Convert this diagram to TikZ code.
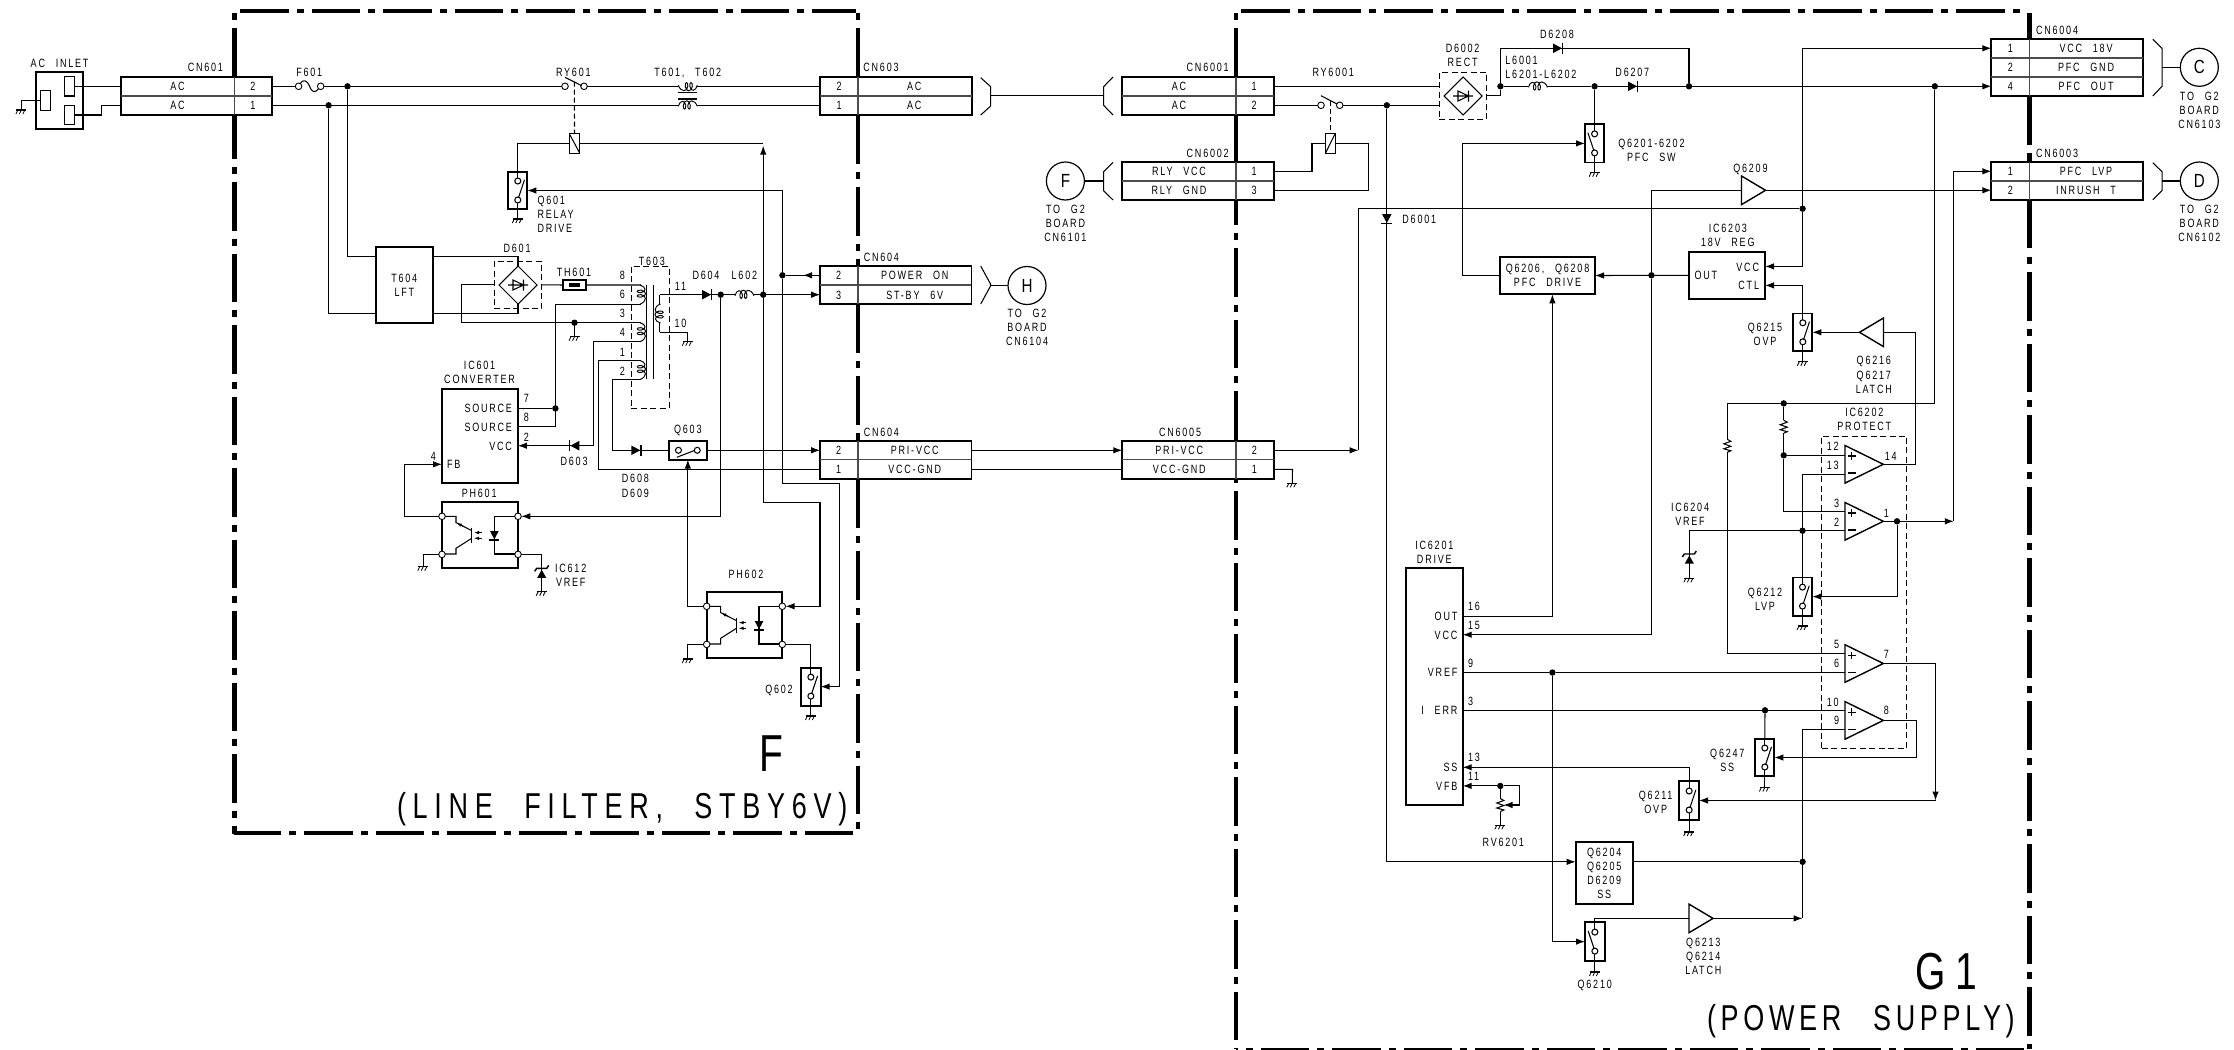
\documentclass[tikz,border=0pt]{standalone}
\usepackage{fontspec}
\usetikzlibrary{arrows.meta}
\newfontfamily\lblfamily[LetterSpace=15,FakeStretch=0.75,WordSpace=2.5]{Liberation Sans}
\newfontfamily\titlefamily[LetterSpace=18.7,FakeStretch=0.75,WordSpace=2.2]{Liberation Sans}
\newfontfamily\titlebfamily[LetterSpace=13,FakeStretch=0.75,WordSpace=2.6]{Liberation Sans}
\newfontfamily\tagfamily[FakeStretch=0.8]{Liberation Sans}
\newcommand{\lblfont}{\lblfamily\fontsize{12}{14}\selectfont}
\newcommand{\connrows}[5]{%
    \draw[rowline] (#4 |- #1.north) -- (#4 |- #1.south);
    \foreach \rowy/\pinno/\sig in {#5} {
        \node[lab] (#1p\pinno) at (#2,\rowy) {\pinno};
        \node[lab] (#1t\pinno) at (#3,\rowy) {\sig};
    }}
\tikzset{
    every node/.style={font=\lblfont, inner sep=0pt, outer sep=0pt},
    lab/.style={text height=8.6pt, text depth=0pt},
    mlab/.style={align=center},
    wire/.style={line width=1.05pt},
    arr/.style={wire, -{Latex[length=9pt,width=6.5pt]}},
    rowline/.style={line width=1.2pt, black!70},
    framedash/.style={line width=4.4pt, dash pattern=on 48.5pt off 8pt on 7pt off 8pt},
    framesolid/.style={line width=4.4pt},
    block/.style={draw, line width=1.8pt, fill=white},
    dashbox/.style={draw, line width=1pt, dash pattern=on 6pt off 3.5pt},
    pinrect/.style={draw, line width=1.1pt, fill=white},
    dot/.style={circle, fill=black, minimum size=6.4pt},
    contact/.style={circle, draw, fill=white, line width=.9pt, minimum size=6.6pt},
    tag/.style={circle, draw, line width=1.2pt, minimum size=38pt,
        font=\tagfamily\fontsize{19}{19}\selectfont},
    gnd/.pic={
        \draw[wire] (-5,0) -- (5,0);
        \foreach \tick in {-3.5,0,3.5} \draw[line width=.8pt] (\tick,0) -- (\tick-2,4);
    },
    swr/.pic={
        \draw[wire] (0,-19) -- (0,-9.5) (0,9.5) -- (0,19);
        \draw[wire, fill=white] (0,-9.5) circle (3) (0,9.5) circle (3);
        \draw[wire] (.7,7.3) -- (6.7,-10.7);
    },
    swl/.pic={
        \draw[wire] (0,-19) -- (0,-9.5) (0,9.5) -- (0,19);
        \draw[wire, fill=white] (0,-9.5) circle (3) (0,9.5) circle (3);
        \draw[wire] (-.7,7.3) -- (-6.7,-10.7);
    },
    swh/.pic={
        \draw[wire, fill=white] (-9.4,0) circle (3) (9.4,0) circle (3);
        \draw[wire] (-11,7) -- (7,0);
    },
    diodepic/.pic={
        \fill (-5,-4.8) -- (4,0) -- (-5,4.8) -- cycle;
        \draw[line width=1.4pt] (4.6,-5.5) -- (4.6,5.5);
    },
    zener/.pic={
        \draw[line width=1.4pt] (-7,3) -- (-5,0) -- (5,0) -- (7,-3);
        \fill (0,1.5) -- (-4.5,9.5) -- (4.5,9.5) -- cycle;
    },
    bridge/.pic={
        \draw[wire, fill=white] (-19,0) -- (0,-19) -- (19,0) -- (0,19) -- cycle;
        \draw[wire] (-10,0) -- (10,0) (-5,-5) -- (-5,5) -- (5.5,0) -- cycle (5.5,-5.5) -- (5.5,5.5);
    },
    coil/.pic={
        \draw[line width=.95pt] (-9.5,1) .. controls (-8,-5) and (-3,-6) .. (-2,0)
            .. controls (-1.5,5) and (-5,5) .. (-4.5,0)
            .. controls (-4,-6) and (2,-6) .. (2.5,0)
            .. controls (3,5) and (-.5,5) .. (0,0)
            .. controls (.5,-6) and (7,-6) .. (9.5,1);
    },
    resistor/.pic={
        \fill[white] (-1.5,-6.5) rectangle (1.5,6.5);
        \draw[wire] (0,-6.5) -- (3.5,-4.5) -- (-3.5,-2) -- (3.5,.5) -- (-3.5,3) -- (3.5,5) -- (0,6.5);
    },
    buffer/.pic={
        \draw[line width=1.4pt, fill=white] (0,-14.3) -- (24,0) -- (0,14.3) -- cycle;
    },
    opamp/.pic={
        \draw[line width=1.4pt, fill=white] (0,-18.8) -- (38.3,0) -- (0,18.8) -- cycle;
        \draw[wire] (3,-8.3) -- (10.5,-8.3) (6.7,-12) -- (6.7,-4.6) (3,8.7) -- (10.5,8.7);
    },
    opto/.pic={
        \draw[wire] (0,0) -- (14,0) -- (14,6.3) -- (29.7,14.3) (29.7,22) -- (14,32) -- (14,37.7) -- (0,37.7);
        \draw[line width=1.5pt] (29.7,12) -- (29.7,27);
        \draw[line width=.8pt, -{Latex[length=5pt,width=3.5pt]}] (22,10.3) -- (14.7,6.7);
        \draw[line width=.8pt, -{Latex[length=5pt,width=3.5pt]}] (39.7,16.3) -- (32,16.3);
        \draw[line width=.8pt, -{Latex[length=5pt,width=3.5pt]}] (39.7,22) -- (32,22);
        \draw[wire] (76,0) -- (52.3,0) -- (52.3,37.7) -- (76,37.7);
        \fill (48,14.7) -- (56.7,14.7) -- (52.3,23) -- cycle;
        \draw[line width=1.4pt] (47.3,23.7) -- (57.3,23.7);
    },
}
\begin{document}
\begin{tikzpicture}[x=1pt, y=-1pt]
    \useasboundingbox (0,0) rectangle (2234,1049);
    % board frames
    \draw[framedash] (240,11) -- (856,11);
    \draw[framedash] (853,832.7) -- (234,832.7);
    \draw[framesolid] (234.3,13) -- (234.3,20) (234.3,28) -- (234.3,159);
    \draw[framedash, dash phase=56.5pt] (234.3,167) -- (234.3,834);
    \draw[framesolid] (858,13) -- (858,20) (858,28) -- (858,163.5);
    \draw[framedash, dash phase=56.5pt] (858,172) -- (858,353);
    \draw[framesolid] (858,259) -- (858,353) (858,433) -- (858,528);
    \draw[framedash, dash phase=56.5pt] (858,361) -- (858,425);
    \draw[framedash, dash phase=56.5pt] (858,536) -- (858,831);
    \draw[framedash] (1241.4,11) -- (2024.6,11);
    \draw[framedash] (2024,1050.5) -- (1236,1050.5);
    \draw[framesolid] (1236,13) -- (1236,20) (1236,28) -- (1236,225) (1236,440) -- (1236,483);
    \draw[framedash, dash phase=56.5pt] (1236,233) -- (1236,440);
    \draw[framedash] (1236,491) -- (1236,1049);
    \draw[framesolid] (2029.4,13) -- (2029.4,145) (2029.4,153) -- (2029.4,248);
    \draw[framedash, dash phase=56.5pt] (2029.4,257) -- (2029.4,1049);

    % AC inlet
    \node[block, minimum width=47.5pt, minimum height=57pt] (inlet) at (59.5,100.5) {};
    \node[pinrect, minimum width=9.7pt, minimum height=19.3pt] (inleta) at (69.2,86.3) {};
    \node[pinrect, minimum width=9.7pt, minimum height=19.3pt] (inletb) at (69.2,115) {};
    \node[pinrect, minimum width=10pt, minimum height=19.6pt] (inletc) at (45.4,100.3) {};
    \node[lab] (inletlab) at (59.6,63.3) {AC INLET};
    \coordinate (gndinlet) at (21.4,110);

    % connectors
    \node[block, minimum width=151.4pt, minimum height=38pt] (cn601) at (196.4,96) {};
    \connrows{cn601}{252.9}{177.5}{234.3,0}{86.3/2/AC,105.3/1/AC}
    \draw[rowline] (cn601.west) -- (cn601.east);
    \node[lab] (cn601lab) at (205.4,67.3) {CN601};
    \node[block, minimum width=151.6pt, minimum height=38pt] (cn603) at (895.8,96) {};
    \connrows{cn603}{839}{914.3}{858,0}{86.3/2/AC,105.3/1/AC}
    \draw[rowline] (cn603.west) -- (cn603.east);
    \node[lab] (cn603lab) at (881,67.3) {CN603};
    \node[block, minimum width=151.2pt, minimum height=38.3pt] (cn604a) at (895.8,285) {};
    \connrows{cn604a}{838.6}{914.7}{858,0}{275.3/2/POWER ON,294.7/3/ST-BY 6V}
    \draw[rowline] (cn604a.west) -- (cn604a.east);
    \node[lab] (cn604alab) at (881.4,256.7) {CN604};
    \node[block, minimum width=151.2pt, minimum height=38pt] (cn604b) at (895.8,459.7) {};
    \connrows{cn604b}{838.6}{914.7}{858,0}{450.3/2/PRI-VCC,469.3/1/VCC-GND}
    \draw[rowline] (cn604b.west) -- (cn604b.east);
    \node[lab] (cn604blab) at (881.4,431.7) {CN604};
    \node[block, minimum width=151.6pt, minimum height=38pt] (cn6001) at (1198.1,96) {};
    \connrows{cn6001}{1254}{1179}{1236,0}{86.3/1/AC,105.3/2/AC}
    \draw[rowline] (cn6001.west) -- (cn6001.east);
    \node[lab] (cn6001lab) at (1207.7,67.3) {CN6001};
    \node[block, minimum width=151.6pt, minimum height=38pt] (cn6002) at (1198.1,181) {};
    \connrows{cn6002}{1254}{1179}{1236,0}{171.3/1/RLY VCC,190.3/3/RLY GND}
    \draw[rowline] (cn6002.west) -- (cn6002.east);
    \node[lab] (cn6002lab) at (1207.7,152.7) {CN6002};
    \node[block, minimum width=151.6pt, minimum height=38pt] (cn6005) at (1198.1,459.7) {};
    \connrows{cn6005}{1254.3}{1179.3}{1236,0}{450.3/2/PRI-VCC,469.3/1/VCC-GND}
    \draw[rowline] (cn6005.west) -- (cn6005.east);
    \node[lab] (cn6005lab) at (1180,431.7) {CN6005};
    \node[block, minimum width=151.3pt, minimum height=56.7pt] (cn6004) at (2067,67.65) {};
    \connrows{cn6004}{2010.4}{2086}{2029.4,0}{48.3/1/VCC 18V,67.3/2/PFC GND,86.3/4/PFC OUT}
    \draw[rowline] (cn6004.west |- 0,58) -- (cn6004.east |- 0,58) (cn6004.west |- 0,77) -- (cn6004.east |- 0,77);
    \node[lab] (cn6004lab) at (2057,30.7) {CN6004};
    \node[block, minimum width=151.3pt, minimum height=38pt] (cn6003) at (2067,181) {};
    \connrows{cn6003}{2010.4}{2086}{2029.4,0}{171.3/1/PFC LVP,190.3/2/INRUSH T}
    \draw[rowline] (cn6003.west) -- (cn6003.east);
    \node[lab] (cn6003lab) at (2057,152.7) {CN6003};

    % brackets and board tags
    \draw[wire] (980.7,77.7) -- ++(10,9) -- ++(0,19.3) -- ++(-10,9);
    \draw[wire] (1113,77) -- ++(-9.4,9.7) -- ++(0,18.6) -- ++(9.4,9.7);
    \draw[wire] (980.7,266) -- ++(9.8,18) -- ++(0,2) -- ++(-9.8,18);
    \draw[wire] (1113,162.3) -- ++(-9.4,9.4) -- ++(0,19) -- ++(9.4,9.3);
    \draw[wire] (2152.8,39.3) -- ++(9.2,9) -- ++(0,38) -- ++(-9.2,9.7);
    \draw[wire] (2152.8,162.7) -- ++(9.2,9) -- ++(0,19) -- ++(-9.2,9);
    \coordinate (br603) at (990.7,95.5);
    \coordinate (br6001) at (1103.6,95.5);
    \coordinate (br604) at (990.5,285.5);
    \coordinate (br6002) at (1103.6,181);
    \coordinate (br6004) at (2162,67.3);
    \coordinate (br6003) at (2162,181);
    \node[tag] (tagh) at (1027,285.5) {H};
    \node[tag] (tagf) at (1065.4,181) {F};
    \node[tag] (tagc) at (2199.3,67.3) {C};
    \node[tag] (tagd) at (2199.3,181) {D};
    \node[mlab] (tohlab) at (1027,327.8) {TO G2\\BOARD\\CN6104};
    \node[mlab] (toflab) at (1065.4,223.8) {TO G2\\BOARD\\CN6101};
    \node[mlab] (toclab) at (2199.3,110.5) {TO G2\\BOARD\\CN6103};
    \node[mlab] (todlab) at (2199.3,223.5) {TO G2\\BOARD\\CN6102};

    % line filter side
    \node[contact] (f601a) at (298.6,86.3) {};
    \node[contact] (f601b) at (320.7,86.3) {};
    \node[lab] (f601lab) at (309.3,72.7) {F601};
    \node[dot] (jac2) at (347.5,86.3) {};
    \node[dot] (jac1) at (328.6,105.3) {};
    \node[contact] (ry601a) at (565,86.3) {};
    \node[contact] (ry601b) at (584,86.3) {};
    \node[lab] (ry601lab) at (573.3,72.3) {RY601};
    \node[block, line width=1.2pt, minimum width=10.4pt, minimum height=19.4pt] (ry601c) at (574.5,143.4) {};
    \node[lab] (t601lab) at (687.7,72.3) {T601, T602};
    \coordinate (t601a) at (678.3,86.3);
    \coordinate (t601b) at (697.3,86.3);
    \coordinate (t602a) at (678.3,105.3);
    \coordinate (t602b) at (697.3,105.3);
    \node[block, minimum width=19pt, minimum height=37.6pt] (q601) at (517.8,190.5) {};
    \node[align=left, anchor=west] (q601lab) at (537.5,214) {Q601\\RELAY\\DRIVE};
    \node[block, minimum width=57.2pt, minimum height=75.7pt] (t604) at (404.3,284.85) {};
    \node[mlab] (t604lab) at (404.3,285.3) {T604\\LFT};
    \coordinate (t604a) at (375.7,256.7);
    \coordinate (t604b) at (375.7,313.3);
    \coordinate (t604c) at (432.9,256.7);
    \coordinate (t604d) at (432.9,313.3);
    \node[dashbox, minimum width=47.8pt, minimum height=47pt] (d601) at (518,284.8) {};
    \node[lab] (d601lab) at (517.1,247.7) {D601};
    \coordinate (d601t) at (518,266);
    \coordinate (d601b) at (518,304);
    \node[pinrect, minimum width=23pt, minimum height=10pt] (th601) at (574.5,285) {};
    \node[fill, minimum width=11pt, minimum height=3.4pt] (th601e) at (574.5,285) {};
    \node[lab] (th601lab) at (574,271.7) {TH601};
    \node[dashbox, minimum width=37.8pt, minimum height=142pt] (t603) at (650.1,337) {};
    \node[lab] (t603lab) at (651.8,260.7) {T603};
    \foreach \pinno/\pina/\pinb in {8/641/285,6/641/304.3,3/641/322.7,4/641/341.7,1/641/360.7,2/641/379.3}
        \coordinate (t603p\pinno) at (\pina,\pinb);
    \foreach \pinno/\pinb in {8/275,6/294.3,3/313.3,4/332.3,1/351.7,2/370.7}
        \node[lab] (t603n\pinno) at (622.3,\pinb) {\pinno};
    \node[lab] (t603n11) at (680.5,285.7) {11};
    \node[lab] (t603n10) at (680.5,323.3) {10};
    \coordinate (t603s11) at (659.5,294.7);
    \coordinate (t603s10) at (659.5,332.3);
    \node[dot] (j3) at (574.5,322.7) {};
    \node[dot] (j604) at (720.7,294.7) {};
    \node[dot] (j602) at (763.2,294.7) {};
    \node[dot] (jpwr) at (782.4,275.3) {};
    \node[lab] (d604lab) at (706,275.3) {D604};
    \node[lab] (l602lab) at (744.4,275.3) {L602};
    \coordinate (l602a) at (734.9,294.7);
    \coordinate (l602b) at (753.9,294.7);
    \node[block, minimum width=75.8pt, minimum height=94.3pt] (ic601) at (480,436.15) {};
    \node[mlab] (ic601lab) at (479.6,372.5) {IC601\\CONVERTER};
    \node[lab, anchor=east] (ic601s1) at (512,408.3) {SOURCE};
    \node[lab, anchor=east] (ic601s2) at (512,426.7) {SOURCE};
    \node[lab, anchor=east] (ic601v) at (512,445.7) {VCC};
    \node[lab, anchor=west] (ic601f) at (447,464.3) {FB};
    \node[lab] (ic601n7) at (526.3,398.3) {7};
    \node[lab] (ic601n8) at (526.3,417.3) {8};
    \node[lab] (ic601n2) at (526.3,436.7) {2};
    \node[lab] (ic601n4) at (433.3,456) {4};
    \coordinate (ic601p7) at (517.9,408.4);
    \coordinate (ic601p8) at (517.9,426.7);
    \coordinate (ic601p2) at (517.9,445.7);
    \coordinate (ic601fb) at (442,464.3);
    \node[dot] (j7) at (555.4,408.4) {};
    \node[lab] (d603lab) at (574.1,460.7) {D603};
    \node[block, minimum width=38.3pt, minimum height=18.6pt] (q603) at (687.85,450.3) {};
    \node[lab] (q603lab) at (687.8,428.7) {Q603};
    \node[mlab] (d608lab) at (635.4,485.8) {D608\\[1pt]D609};
    \node[block, minimum width=76pt, minimum height=66.3pt] (ph601) at (480,535.15) {};
    \node[lab] (ph601lab) at (479.2,493.3) {PH601};
    \node[block, minimum width=75.6pt, minimum height=66.3pt] (ph602) at (744.5,625.15) {};
    \node[lab] (ph602lab) at (746,574.3) {PH602};
    \pic at (442,516.3) {opto};
    \pic at (706.7,606.3) {opto};
    \node[contact] (ph601a) at (442,516.3) {};
    \node[contact] (ph601b) at (518,516.3) {};
    \node[contact] (ph601c) at (442,554.4) {};
    \node[contact] (ph601d) at (518,554.4) {};
    \node[contact] (ph602a) at (706.7,606.3) {};
    \node[contact] (ph602b) at (782.3,606.3) {};
    \node[contact] (ph602c) at (706.7,644.4) {};
    \node[contact] (ph602d) at (782.3,644.4) {};
    \node[mlab] (ic612lab) at (570.7,575.8) {IC612\\VREF};
    \coordinate (z612) at (541.7,568.3);
    \node[block, minimum width=19.7pt, minimum height=38pt] (q602) at (810.85,686.6) {};
    \node[lab] (q602lab) at (779,688.7) {Q602};
    \node[anchor=base west, font=\titlefamily\fontsize{52}{52}\selectfont] (flab) at (759,771.7) {F};
    \node[anchor=base west, font=\titlefamily\fontsize{36}{36}\selectfont] (ftitle) at (397,818) {(LINE FILTER, STBY6V)};

    % power supply side
    \node[contact] (ry6001a) at (1321,105.3) {};
    \node[contact] (ry6001b) at (1339.7,105.3) {};
    \node[lab] (ry6001lab) at (1333.2,72.7) {RY6001};
    \node[block, line width=1.2pt, minimum width=9.6pt, minimum height=19.4pt] (ry6001c) at (1330.3,143.4) {};
    \node[dot] (j6001) at (1386.8,105.3) {};
    \node[lab] (d6001lab) at (1419.3,219.3) {D6001};
    \node[dashbox, minimum width=47.5pt, minimum height=47pt] (d6002) at (1463,95.8) {};
    \node[mlab] (d6002lab) at (1462.6,55.8) {D6002\\RECT};
    \node[dot] (j6002) at (1500.4,86.3) {};
    \node[lab] (d6208lab) at (1557,34.3) {D6208};
    \node[align=left, anchor=west] (l6001lab) at (1505.4,67.5) {L6001\\L6201-L6202};
    \coordinate (l6001a) at (1528.4,86.3);
    \coordinate (l6001b) at (1547.4,86.3);
    \node[dot] (jsw) at (1594.6,86.3) {};
    \node[lab] (d6207lab) at (1632.3,72.7) {D6207};
    \node[dot] (jpfc) at (1689,86.3) {};
    \node[dot] (jout) at (1934.8,86.3) {};
    \node[block, minimum width=19.2pt, minimum height=38.3pt] (q6201) at (1594.6,143.4) {};
    \node[mlab] (q6201lab) at (1651.4,150.5) {Q6201-6202\\PFC SW};
    \node[lab] (q6209lab) at (1750.4,167.7) {Q6209};
    \coordinate (q6209in) at (1741.5,190.3);
    \coordinate (q6209out) at (1765.5,190.3);
    \node[dot] (jv18) at (1802.6,208.7) {};
    \coordinate (jpri) at (1358.5,450.3);
    \node[block, minimum width=95pt, minimum height=37.6pt, align=center] (pfcdrive) at (1547.5,275.5) {Q6206, Q6208\\PFC DRIVE};
    \coordinate (pfcdrivein) at (1552.4,294.3);
    \node[block, minimum width=76pt, minimum height=47.3pt] (ic6203) at (1727,275.35) {};
    \node[mlab] (ic6203lab) at (1727.8,235.3) {IC6203\\18V REG};
    \node[lab, anchor=west] (ic6203o) at (1694.6,275.3) {OUT};
    \node[lab, anchor=east] (ic6203v) at (1759,266.7) {VCC};
    \node[lab, anchor=east] (ic6203c) at (1759,285.3) {CTL};
    \coordinate (ic6203vcc) at (1765,266.4);
    \coordinate (ic6203ctl) at (1765,285.4);
    \node[dot] (jreg) at (1651.4,275.3) {};
    \node[block, minimum width=19pt, minimum height=37.7pt] (q6215) at (1802.8,332.3) {};
    \node[mlab] (q6215lab) at (1765,334.7) {Q6215\\OVP};
    \coordinate (q6216in) at (1883.5,332.3);
    \coordinate (q6216out) at (1859.5,332.3);
    \node[mlab] (q6216lab) at (1873.8,375) {Q6216\\[1pt]Q6217\\LATCH};
    \node[dashbox, minimum width=85pt, minimum height=312.3pt] (ic6202) at (1864.2,592.15) {};
    \node[mlab] (ic6202lab) at (1864.3,419.8) {IC6202\\PROTECT};
    \foreach \pinno/\pina/\pinb in {12/1832.7/445.7,13/1832.7/464.7,3/1836.7/502.7,2/1836.7/521.7,
            5/1836.7/644.3,6/1836.7/663.3,10/1832.7/701.7,9/1836.7/720.3,
            14/1890.7/456,1/1886.3/512.7,7/1886.3/653.7,8/1886.3/710.3}
        \node[lab] (ic6202n\pinno) at (\pina,\pinb) {\pinno};
    \coordinate (op1p) at (1845,455.3);
    \coordinate (op1m) at (1845,474.3);
    \coordinate (op2p) at (1845,511.7);
    \coordinate (op2m) at (1845,530.7);
    \coordinate (op3p) at (1845,653.7);
    \coordinate (op3m) at (1845,672.5);
    \coordinate (op4p) at (1845,710.3);
    \coordinate (op4m) at (1845,729.3);
    \coordinate (op1out) at (1883.3,464.3);
    \coordinate (op2out) at (1883.3,521.3);
    \coordinate (op3out) at (1883.3,663.5);
    \coordinate (op4out) at (1883.3,720.4);
    \node[dot] (j12) at (1783.7,403.4) {};
    \node[dot] (j13) at (1783.7,455.3) {};
    \node[dot] (jvref) at (1802.5,530.7) {};
    \node[dot] (jlvp) at (1897,521.3) {};
    \coordinate (jlvpend) at (1953.8,521.3);
    \coordinate (op3end) at (1935.5,800.5);
    \coordinate (zvref) at (1689.3,554);
    \node[mlab] (ic6204lab) at (1690,514.7) {IC6204\\VREF};
    \node[block, minimum width=19.6pt, minimum height=38.3pt] (q6212) at (1802.5,596.6) {};
    \node[mlab] (q6212lab) at (1765,599.5) {Q6212\\LVP};
    \node[block, minimum width=19pt, minimum height=37.7pt] (q6247) at (1764.8,757.5) {};
    \node[mlab] (q6247lab) at (1727.3,760.5) {Q6247\\SS};
    \node[block, minimum width=19.7pt, minimum height=38.5pt] (q6211) at (1689.15,800.5) {};
    \node[mlab] (q6211lab) at (1655.7,802.5) {Q6211\\OVP};
    \node[block, minimum width=57pt, minimum height=236.8pt] (ic6201) at (1434.2,686.6) {};
    \node[mlab] (ic6201lab) at (1434.3,552.4) {IC6201\\DRIVE};
    \foreach \pinname/\pinb/\pinno/\pina in {OUT/616.2/16/606.4,VCC/634.7/15/625.6,VREF/672.5/9/663.4,
            I ERR/710.3/3/701.5,SS/767.3/13/757.5,VFB/785.9/11/776.4} {
        \node[lab, anchor=east] (ic6201t\pinno) at (1457.3,\pinb) {\pinname};
        \node[lab, anchor=west] (ic6201n\pinno) at (1468,\pina) {\pinno};
        \coordinate (ic6201p\pinno) at (1462.7,\pinb);
    }
    \node[dot] (jref) at (1552.4,672.5) {};
    \node[dot] (jerr) at (1765,710.3) {};
    \node[dot] (jfb) at (1500.3,785.9) {};
    \node[lab] (rv6201lab) at (1503.3,842.5) {RV6201};
    \node[block, minimum width=57pt, minimum height=61.8pt, align=center] (q6204) at (1604.2,873.1) {Q6204\\Q6205\\D6209\\SS};
    \coordinate (q6204in) at (1575.7,861.8);
    \coordinate (q6204out) at (1632.7,861.8);
    \node[dot] (jlatch) at (1802.6,861.8) {};
    \node[block, minimum width=19.7pt, minimum height=38.5pt] (q6210) at (1594.85,941.6) {};
    \node[lab] (q6210lab) at (1594.7,984.2) {Q6210};
    \coordinate (q6213in) at (1689,918.4);
    \coordinate (q6213out) at (1713,918.4);
    \node[mlab] (q6213lab) at (1703.3,956.6) {Q6213\\Q6214\\LATCH};
    \node[anchor=base west, font=\titlefamily\fontsize{52}{52}\selectfont] (glab) at (1915.8,989.3) {G1};
    \node[anchor=base west, font=\titlebfamily\fontsize{36}{36}\selectfont] (gtitle) at (1707,1030.7) {(POWER SUPPLY)};

    % wires, line filter side
    \draw[wire] (inleta.east) -- (inleta.east -| cn601.west);
    \draw[wire] (inletb.east) -- ++(27.6,0) |- (cn601p1 -| cn601.west);
    \draw[wire] (inletc.west) -| (gndinlet);
    \draw[wire] (cn601p2 -| cn601.east) -- (f601a);
    \draw[wire] (f601a) .. controls (303,79) and (307,80) .. (309.5,86) .. controls (312,93) and (315,93) .. (f601b);
    \draw[wire] (f601b) -- (ry601a) (ry601b) -- (t601a) (t601b) -- (cn603p2 -| cn603.west);
    \draw[wire] (cn601p1 -| cn601.east) -- (t602a) (t602b) -- (cn603p1 -| cn603.west);
    \draw[wire] (jac2) |- (t604a);
    \draw[wire] (jac1) |- (t604b);
    \draw[wire] (t604c) -| (d601t);
    \draw[wire] (t604d) -| (d601b);
    \draw[wire] (d601.west) -- ++(-33,0) |- (t603p3);
    \draw[wire] (d601.east) -- (th601.west) (th601.east) -- (t603p8);
    \draw[wire] (j3) -- (574.5,336.7);
    \draw[wire] (t603p6) -- ++(-85.6,0) |- (ic601p8);
    \draw[wire] (ic601p7) -- (j7);
    \draw[arr] (t603p4) -- ++(-47.7,0) |- (ic601p2);
    \draw[wire] (t603p1) -- ++(-42.8,0) |- (cn604bp1 -| cn604b.west);
    \draw[wire] (t603p2) -- ++(-28.6,0) |- (q603.west);
    \draw[arr] (q603.east) -- (cn604bp2 -| cn604b.west);
    \draw[wire] (646.8,285) -- (646.8,379.3) (653.3,285) -- (653.3,379.3);
    \draw[wire] (t603s11) -- ++(0,9.3) (t603s10) -- ++(0,-9.3);
    \draw[wire] (t603s10) -| (687.8,341.7);
    \draw[wire] (t603s11) -- (j604) (j604) -- (l602a) (l602b) -- (j602);
    \draw[arr] (j602) -- (cn604ap3 -| cn604a.west);
    \draw[wire] (cn604ap2 -| cn604a.west) -- (jpwr);
    \draw[arr] (cn604ap2 -| cn604a.west) -- (803,275.3);
    \draw[arr] (jpwr) |- (q601.east);
    \draw[arr] (jpwr) -- ++(0,208) -- ++(57.3,0) |- (q602.east);
    \draw[arr] (j602) -- ++(0,-149);
    \draw[wire] (ry601c.east) -- (ry601c.east -| j602);
    \draw[wire] (q601.north) |- (ry601c.west);
    \draw[arr] (j602) -- ++(0,208) -- ++(56.8,0) |- (ph602b);
    \draw[arr] (j604) |- (ph601b);
    \draw[arr] (ph601a) -- ++(-37.4,0) |- (ic601fb);
    \draw[wire] (ph601c) -| (423.3,566.7);
    \draw[wire] (ph601d) -| (z612) -- (541.7,591.7);
    \draw[arr] (ph602a) -| (q603.south);
    \draw[wire] (ph602c) -| (687.7,659);
    \draw[wire] (ph602d) -| (q602.north);
    \draw[wire] (q601.south) -- (517.8,219);
    \draw[wire] (q602.south) -- (810.85,716);
    \draw[wire] (678.3,92.3) -- (697.3,92.3) (678.3,99) -- (697.3,99);
    \draw[wire, dash pattern=on 5pt off 3pt] (574.4,81.7) -- (ry601c.north);
    \draw[wire] (565,77.3) -- (581.7,85.7);
    \draw[wire] (ry601c.north west) -- (ry601c.south east);

    % wires, link between boards
    \draw[wire] (br603) -- (br6001);
    \draw[wire] (br604) -- (tagh);
    \draw[wire] (tagf) -- (br6002);
    \draw[arr] (cn604bp2 -| cn604b.east) -- (cn6005p2 -| cn6005.west);
    \draw[wire] (cn604bp1 -| cn604b.east) -- (cn6005p1 -| cn6005.west);
    \draw[wire] (tagc) -- (br6004);
    \draw[wire] (tagd) -- (br6003);

    % wires, power supply side
    \draw[wire] (cn6001p1 -| cn6001.east) -- (cn6001p1 -| d6002.west);
    \draw[wire] (cn6001p2 -| cn6001.east) -- (ry6001a);
    \draw[wire] (ry6001b) -- (cn6001p2 -| d6002.west);
    \draw[wire] (1321,95.7) -- (1337,104);
    \draw[wire, dash pattern=on 5pt off 3pt] (1330.3,101) -- (ry6001c.north);
    \draw[wire] (ry6001c.south west) -- (ry6001c.north east);
    \draw[wire] (ry6001c.west) -- ++(-13.5,0) |- (cn6002p1 -| cn6002.east);
    \draw[wire] (ry6001c.east) -- ++(33.1,0) |- (cn6002p3 -| cn6002.east);
    \draw[arr] (j6001) |- (q6204in);
    \draw[wire] (d6002.east) -| (j6002);
    \draw[wire] (j6002) -- ++(0,-38) -| (jpfc);
    \draw[wire] (j6002) -- (l6001a) (l6001b) -- (jsw) (jsw) -- (jpfc) (jpfc) -- (jout);
    \draw[arr] (jout) -- (cn6004p4 -| cn6004.west);
    \draw[wire] (jsw) -- (q6201.north);
    \draw[wire] (q6201.south) -- (1594.6,172.7);
    \draw[arr] (pfcdrive.west) -- ++(-37.5,0) |- (q6201.west);
    \draw[arr] (ic6203.west) -- (pfcdrive.east);
    \draw[wire] (jreg) |- (q6209in);
    \draw[arr] (jreg) |- (ic6201p15);
    \draw[arr] (q6209out) -- (cn6003p2 -| cn6003.west);
    \draw[arr] (cn6005p2 -| cn6005.east) -- (jpri);
    \draw[wire] (cn6005p1 -| cn6005.east) -- ++(18.6,0) -- (1292.3,483.3);
    \draw[wire] (jpri) -- ++(0,-241.6) -- (jv18);
    \draw[arr] (jv18) |- (cn6004p1 -| cn6004.west);
    \draw[arr] (jv18) |- (ic6203vcc);
    \draw[arr] (q6215.north) |- (ic6203ctl);
    \draw[wire] (q6215.south) -- (1802.8,361.7);
    \draw[arr] (q6216out) -- (q6215.east);
    \draw[wire] (q6216in) -- ++(32.4,0) |- (op1out);
    \draw[wire] (jout) -- ++(0,317.1) -- ++(-207.5,0) |- (op3p);
    \draw[wire] (j12) -- (j13) (j13) -- (op1p);
    \draw[wire] (j13) |- (op2p);
    \draw[wire] (op1m) -| (q6212.north);
    \draw[wire] (op2m) -| (zvref) -- (1689.3,578.3);
    \draw[wire] (op2out) -- (jlvp);
    \draw[arr] (jlvp) -- (jlvpend);
    \draw[arr] (jlvp) |- (q6212.east);
    \draw[arr] (jlvpend) |- (cn6003p1 -| cn6003.west);
    \draw[wire] (q6212.south) -- (1802.5,626);
    \draw[arr] (op3out) -| (op3end);
    \draw[arr] (op3end) -- (q6211.east);
    \draw[arr] (op4out) -- ++(32.7,0) |- (q6247.east);
    \draw[wire] (op4m) -| (jlatch);
    \draw[wire] (q6204out) -- (jlatch);
    \draw[arr] (q6213out) -- (q6213out -| jlatch);
    \draw[wire] (jlatch) -- (q6213out -| jlatch);
    \draw[wire] (ic6201p9) -- (jref) (jref) -- (op3m);
    \draw[wire] (ic6201p3) -- (jerr) (jerr) -- (op4p);
    \draw[wire] (jerr) -- (q6247.north);
    \draw[wire] (q6247.south) -- (1764.8,787.5);
    \draw[arr] (jref) |- (q6210.west);
    \draw[wire] (q6210.north) |- (q6213in);
    \draw[wire] (q6210.south) -- (1594.85,972);
    \draw[arr] (q6211.north) |- (ic6201p13);
    \draw[wire] (q6211.south) -- (1689.15,832);
    \draw[arr] (jfb) -- (ic6201p11);
    \draw[wire] (jfb) -- (1500.3,825.3);
    \draw[arr] (jfb) -- ++(19,0) -- ++(0,19.1) -- (1503.5,805);
    \draw[arr] (ic6201p16) -| (pfcdrivein);

    % symbols on top of the wires
    \pic at (518,285) {bridge};
    \pic at (1463,96) {bridge};
    \pic at (517.8,190.5) {swr};
    \pic at (810.85,686.6) {swr};
    \pic at (1594.6,143.4) {swl};
    \pic at (1802.8,332.3) {swr};
    \pic at (1802.5,596.6) {swr};
    \pic at (1764.8,757.5) {swr};
    \pic at (1689.15,800.5) {swr};
    \pic at (1594.85,941.6) {swl};
    \pic at (687.85,450.3) {swh};
    \foreach \gx/\gy in {21.4/110,517.8/219,574.5/336.7,687.8/341.7,423.3/566.7,541.7/591.7,687.7/659,
            810.85/716,1292.3/483.3,1594.6/172.7,1802.8/361.7,1689.3/578.3,1802.5/626,
            1764.8/787.5,1689.15/832,1500.3/825.3,1594.85/972}
        \pic at (\gx,\gy) {gnd};
    \pic at (707,294.7) {diodepic};
    \pic[rotate=180] at (574.3,445.7) {diodepic};
    \pic at (636.3,450.3) {diodepic};
    \pic[rotate=-90] at (1386.8,219) {diodepic};
    \pic at (1558,48.3) {diodepic};
    \pic at (1633,86.3) {diodepic};
    \pic at (z612) {zener};
    \pic at (zvref) {zener};
    \pic[rotate=180] at (687.8,86.3) {coil};
    \pic at (687.8,105.3) {coil};
    \pic at (744.4,294.7) {coil};
    \pic at (1537.9,86.3) {coil};
    \pic[rotate=-90] at (641,294.65) {coil};
    \pic[rotate=-90] at (641,332.2) {coil};
    \pic[rotate=-90] at (641,370) {coil};
    \pic[rotate=90] at (659.5,313.5) {coil};
    \pic at (1783.7,426.7) {resistor};
    \pic at (1727.3,445.8) {resistor};
    \pic at (1500.3,805) {resistor};
    \pic at (q6209in) {buffer};
    \pic[rotate=180] at (q6216in) {buffer};
    \pic at (q6213in) {buffer};
    \pic at (1845,464.3) {opamp};
    \pic at (1845,521.3) {opamp};
    \pic at (1845,663.5) {opamp};
    \pic at (1845,720.4) {opamp};
\end{tikzpicture}
\end{document}
